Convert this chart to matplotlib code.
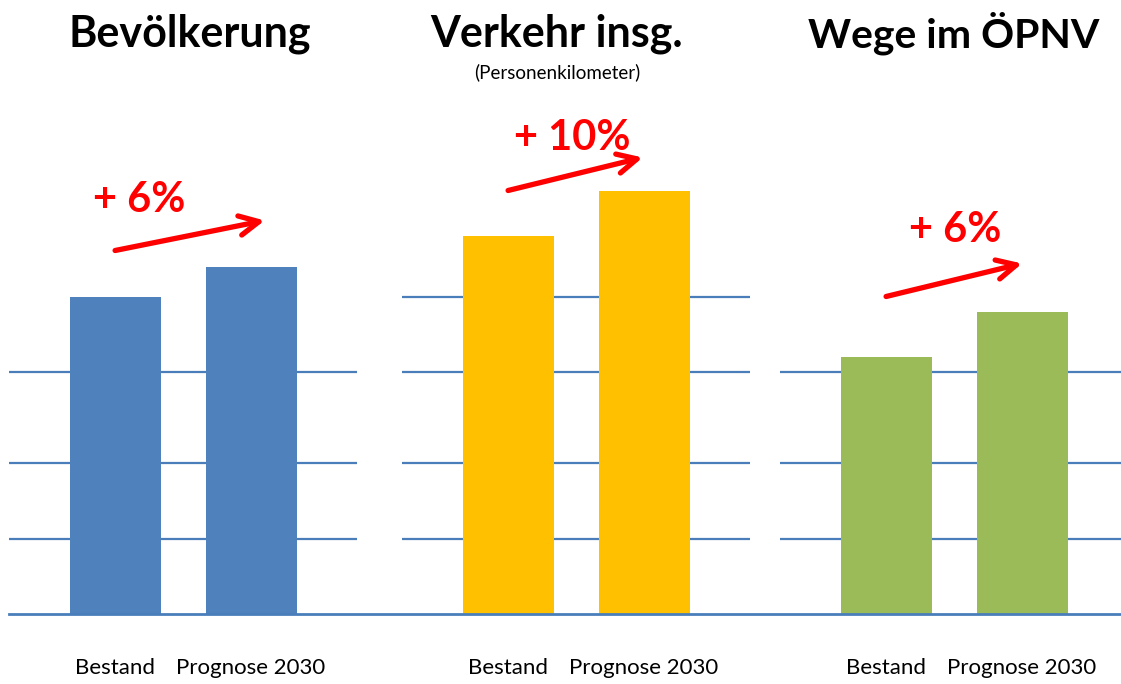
import matplotlib
matplotlib.use("Agg")
import matplotlib.pyplot as plt

# values (arbitrary units, baseline = 0)
titles = ["Bevölkerung", "Verkehr insg.", "Wege im ÖPNV"]
subtitles = ["", "(Personenkilometer)", ""]
categories = ["Bestand", "Prognose 2030"]
bevoelkerung = [317, 347]
verkehr = [378, 423]
wege_oepnv = [257, 302]
changes = ["+ 6%", "+ 10%", "+ 6%"]
grid_levels = [[75, 151, 242], [75, 151, 242, 317], [75, 151, 242]]

series = [bevoelkerung, verkehr, wege_oepnv]
colors = ["#4f81bd", "#ffc000", "#9bbb59"]
line_color = "#4a7ebb"

plt.rcParams["font.family"] = ["Lato", "DejaVu Sans"]

W, H = 1121, 684
fig = plt.figure(figsize=(W / 100, H / 100), dpi=100)

base_px = 613.5
ymax = base_px
bottom = (H - base_px) / H
panel_left = [9, 402, 780]
panel_w = 348
pitch = 136
x0 = -0.78

# per panel annotation placement (data coords)
title_x = [0.55, 0.36, 0.50]
title_size = [31, 31, 29.5]
label_pos = [(0.18, 414), (0.47, 475), (0.51, 383)]
arrow_from = [(0.0, 363), (0.0, 423), (0.0, 317)]
arrow_to = [(1.10, 393), (0.99, 456), (1.0, 350)]

for i in range(3):
    ax = fig.add_axes([panel_left[i] / W, bottom, panel_w / W, 1 - bottom])
    ax.set_xlim(x0, x0 + panel_w / pitch)
    ax.set_ylim(0, ymax)
    for lv in grid_levels[i]:
        ax.axhline(lv, color=line_color, lw=1.6, zorder=1)
    ax.bar(range(len(categories)), series[i], width=91 / pitch,
           color=colors[i], zorder=2)
    ax.set_xticks(range(len(categories)))
    ax.set_xticklabels(categories, fontsize=16)
    ax.tick_params(axis="x", length=0, pad=32)
    ax.set_yticks([])
    for s in ax.spines.values():
        s.set_visible(False)
    ax.patch.set_visible(False)

    ax.text(title_x[i], 580, titles[i], ha="center", va="center",
            fontsize=title_size[i], fontweight="bold", color="black")
    if subtitles[i]:
        ax.text(title_x[i], 541, subtitles[i], ha="center", va="center",
                fontsize=13.5, color="black")
    ax.text(label_pos[i][0], label_pos[i][1], changes[i], ha="center",
            va="center", fontsize=30, fontweight="bold", color="#ff0000")
    ax.annotate("", xy=arrow_to[i], xytext=arrow_from[i],
                arrowprops=dict(arrowstyle="->,head_length=0.7,head_width=0.35",
                                color="#ff0000", lw=3.8, mutation_scale=20,
                                shrinkA=0, shrinkB=0))

# continuous baseline across all panels
axb = fig.add_axes([9 / W, bottom, (W - 9) / W, 1 - bottom], zorder=5)
axb.set_xlim(0, 1)
axb.set_ylim(0, ymax)
axb.axhline(0, color=line_color, lw=2.0, clip_on=False)
axb.axis("off")

fig.savefig("out.png", dpi=100)
